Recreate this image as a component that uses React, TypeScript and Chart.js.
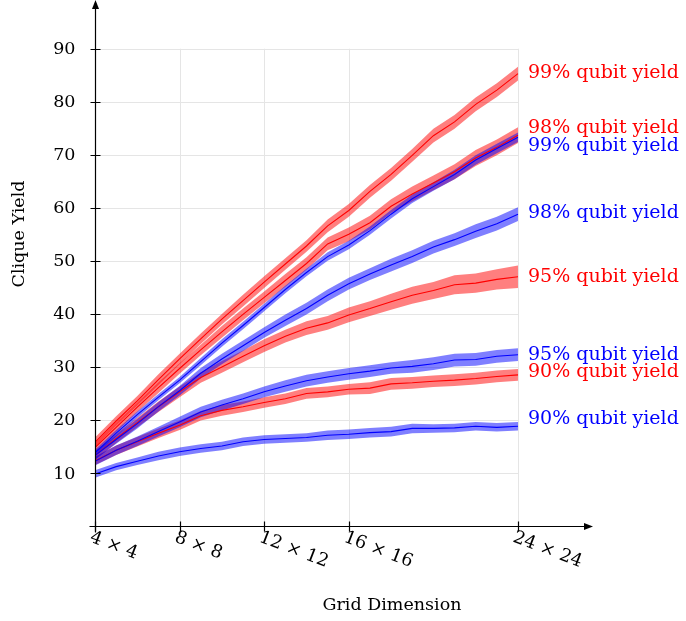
import React, { useEffect, useRef } from "react";
import { Chart, registerables } from "chart.js";

Chart.register(...registerables);

// ---- data ----
const gridSizes = [4, 5, 6, 7, 8, 9, 10, 11, 12, 13, 14, 15, 16, 17, 18, 19, 20, 21, 22, 23, 24];
const xTickValues = [4, 8, 12, 16, 24];
const xTickLabels = ["4 × 4", "8 × 8", "12 × 12", "16 × 16", "24 × 24"];
const yTickValues = [10, 20, 30, 40, 50, 60, 70, 80, 90];

const red99 = [15.8, 19.8, 23.6, 27.6, 31.5, 35.3, 39.0, 42.5, 46.0, 49.4, 52.8, 56.6, 59.5, 63.1, 66.3, 69.9, 73.6, 76.2, 79.5, 82.2, 85.3];
const red98 = [14.8, 18.6, 22.4, 26.1, 29.7, 33.2, 36.6, 39.9, 43.1, 46.3, 49.5, 53.2, 55.0, 57.2, 60.3, 62.6, 64.7, 66.8, 69.4, 71.4, 73.7];
const blue99 = [13.8, 17.5, 21.0, 24.3, 27.5, 31.0, 34.5, 37.8, 41.2, 44.6, 47.8, 50.8, 53.0, 55.7, 58.8, 61.7, 64.0, 66.3, 69.0, 71.2, 73.3];
const blue98 = [13.3, 16.3, 19.3, 22.5, 25.5, 28.8, 31.5, 34.0, 36.5, 38.8, 41.0, 43.5, 45.7, 47.5, 49.2, 50.8, 52.6, 54.0, 55.6, 57.0, 58.8];
const red95 = [13.3, 16.5, 19.5, 22.5, 25.3, 28.0, 30.0, 32.0, 34.0, 35.8, 37.3, 38.3, 39.8, 41.0, 42.3, 43.5, 44.4, 45.5, 45.8, 46.5, 47.0];
const blue95 = [12.2, 14.3, 16.0, 17.8, 19.6, 21.5, 22.8, 24.0, 25.3, 26.4, 27.4, 28.1, 28.7, 29.2, 29.8, 30.1, 30.6, 31.3, 31.4, 32.0, 32.3];
const red90 = [12.3, 14.3, 15.9, 17.5, 19.0, 20.8, 21.8, 22.5, 23.3, 24.0, 25.0, 25.3, 25.8, 26.0, 26.8, 27.0, 27.3, 27.5, 27.8, 28.2, 28.5];
const blue90 = [9.8, 11.2, 12.2, 13.2, 14.0, 14.6, 15.1, 15.9, 16.3, 16.5, 16.7, 17.1, 17.3, 17.6, 17.8, 18.4, 18.4, 18.5, 18.8, 18.6, 18.8];

// half-widths of the shaded bands
const red99Err = [0.9, 0.9, 0.9, 1.0, 1.0, 1.0, 1.0, 1.1, 1.1, 1.1, 1.1, 1.2, 1.2, 1.2, 1.2, 1.2, 1.3, 1.3, 1.3, 1.3, 1.3];
const red98Err = [0.9, 0.9, 0.9, 1.0, 1.0, 1.0, 1.1, 1.1, 1.1, 1.2, 1.2, 1.2, 1.3, 1.3, 1.3, 1.4, 1.4, 1.4, 1.5, 1.5, 1.5];
const blue99Err = [0.6, 0.6, 0.6, 0.6, 0.6, 0.7, 0.7, 0.7, 0.7, 0.7, 0.7, 0.8, 0.8, 0.8, 0.8, 0.8, 0.8, 0.9, 0.9, 0.9, 0.9];
const blue98Err = [0.8, 0.8, 0.9, 0.9, 0.9, 1.0, 1.0, 1.0, 1.0, 1.1, 1.1, 1.1, 1.1, 1.1, 1.2, 1.2, 1.2, 1.2, 1.3, 1.3, 1.3];
const red95Err = [0.8, 0.9, 0.9, 1.0, 1.0, 1.0, 1.1, 1.1, 1.2, 1.2, 1.3, 1.3, 1.4, 1.4, 1.5, 1.6, 1.6, 1.8, 1.8, 1.9, 2.1];
const blue95Err = [0.8, 0.9, 0.9, 0.9, 1.0, 1.0, 1.0, 1.0, 1.0, 1.1, 1.1, 1.1, 1.1, 1.1, 1.1, 1.2, 1.2, 1.2, 1.2, 1.2, 1.2];
const red90Err = [0.8, 0.9, 0.9, 0.9, 0.9, 0.9, 1.0, 1.0, 1.0, 1.0, 1.0, 1.0, 1.0, 1.1, 1.1, 1.1, 1.1, 1.1, 1.1, 1.1, 1.1];
const blue90Err = [0.7, 0.7, 0.7, 0.8, 0.8, 0.8, 0.8, 0.8, 0.8, 0.8, 0.8, 0.9, 0.9, 0.9, 0.9, 0.9, 0.8, 0.8, 0.8, 0.8, 0.8];

const seriesLabels = ["90% qubit yield", "95% qubit yield", "98% qubit yield", "99% qubit yield", "90% qubit yield", "95% qubit yield", "98% qubit yield", "99% qubit yield"];
const seriesKinds = ["blue", "blue", "blue", "blue", "red", "red", "red", "red"];
const seriesMeans = [blue90, blue95, blue98, blue99, red90, red95, red98, red99];
const seriesErrs = [blue90Err, blue95Err, blue98Err, blue99Err, red90Err, red95Err, red98Err, red99Err];
// vertical anchor (data units) of each end label
const labelAnchors = [20.2, 32.3, 59.0, 71.7, 29.0, 47.0, 75.0, 85.5];

const X_MIN = 4, X_MAX = 27.5, Y_MIN = 0, Y_MAX = 99;
const GRID_X_MAX = 24, GRID_Y_MAX = 90;

const LINE = { red: "rgb(255,0,0)", blue: "rgb(0,0,255)" };
const BAND = { red: "rgba(255,0,0,0.5)", blue: "rgba(0,0,255,0.5)" };
const FONT = "'DejaVu Serif', serif";

const decorPlugin = {
  id: "decor",
  beforeDatasetsDraw(chart: any) {
    const { ctx, scales } = chart;
    const x = scales.x, y = scales.y;
    ctx.save();
    ctx.strokeStyle = "#e5e5e5";
    ctx.lineWidth = 1;
    const gx0 = x.getPixelForValue(X_MIN), gx1 = x.getPixelForValue(GRID_X_MAX);
    const gy0 = y.getPixelForValue(Y_MIN), gy1 = y.getPixelForValue(GRID_Y_MAX);
    ctx.beginPath();
    yTickValues.forEach((v) => {
      const py = Math.round(y.getPixelForValue(v)) + 0.5;
      ctx.moveTo(gx0, py);
      ctx.lineTo(gx1, py);
    });
    xTickValues.forEach((v) => {
      const px = Math.round(x.getPixelForValue(v)) + 0.5;
      ctx.moveTo(px, gy1);
      ctx.lineTo(px, gy0);
    });
    ctx.stroke();
    ctx.restore();
  },
  afterDatasetsDraw(chart: any) {
    const { ctx, scales, chartArea } = chart;
    const x = scales.x, y = scales.y;
    const ax = Math.round(x.getPixelForValue(X_MIN)) + 0.5;
    const ay = Math.round(y.getPixelForValue(Y_MIN)) + 0.5;
    ctx.save();
    ctx.strokeStyle = "#000";
    ctx.fillStyle = "#000";
    ctx.lineWidth = 1.2;
    // axes
    ctx.beginPath();
    ctx.moveTo(ax, ay + 6);
    ctx.lineTo(ax, chartArea.top + 6);
    ctx.moveTo(ax - 6, ay);
    ctx.lineTo(chartArea.right - 6, ay);
    ctx.stroke();
    // arrowheads
    ctx.beginPath();
    ctx.moveTo(ax, chartArea.top - 1);
    ctx.lineTo(ax - 3.5, chartArea.top + 8);
    ctx.lineTo(ax + 3.5, chartArea.top + 8);
    ctx.closePath();
    ctx.fill();
    ctx.beginPath();
    ctx.moveTo(chartArea.right + 1, ay);
    ctx.lineTo(chartArea.right - 8, ay - 3.5);
    ctx.lineTo(chartArea.right - 8, ay + 3.5);
    ctx.closePath();
    ctx.fill();
    // ticks
    ctx.beginPath();
    yTickValues.forEach((v) => {
      const py = Math.round(y.getPixelForValue(v)) + 0.5;
      ctx.moveTo(ax - 5, py);
      ctx.lineTo(ax + 5, py);
    });
    xTickValues.forEach((v) => {
      const px = Math.round(x.getPixelForValue(v)) + 0.5;
      ctx.moveTo(px, ay - 5);
      ctx.lineTo(px, ay + 5);
    });
    ctx.stroke();
    // y tick labels
    ctx.font = `17.5px ${FONT}`;
    ctx.textAlign = "right";
    ctx.textBaseline = "middle";
    yTickValues.forEach((v) => {
      ctx.fillText(String(v), ax - 20, y.getPixelForValue(v) + 1);
    });
    // x tick labels (rotated)
    ctx.font = `18px ${FONT}`;
    ctx.textAlign = "left";
    ctx.textBaseline = "top";
    xTickValues.forEach((v, i) => {
      const px = x.getPixelForValue(v);
      ctx.save();
      ctx.translate(px - 1, ay + 2);
      ctx.rotate((21 * Math.PI) / 180);
      ctx.fillText(xTickLabels[i], 0, 0);
      ctx.restore();
    });
    // axis titles
    ctx.font = `17.5px ${FONT}`;
    ctx.textAlign = "center";
    ctx.textBaseline = "middle";
    ctx.fillText("Grid Dimension", 392, 605);
    ctx.save();
    ctx.translate(19, 234);
    ctx.rotate(-Math.PI / 2);
    ctx.fillText("Clique Yield", 0, 0);
    ctx.restore();
    // end labels
    ctx.font = `19px ${FONT}`;
    ctx.textAlign = "left";
    ctx.textBaseline = "middle";
    const endX = x.getPixelForValue(GRID_X_MAX) + 10;
    seriesLabels.forEach((lab, i) => {
      ctx.fillStyle = LINE[seriesKinds[i] as "red" | "blue"];
      ctx.fillText(lab, endX, y.getPixelForValue(labelAnchors[i]));
    });
    ctx.restore();
  },
};

export default function App() {
  const ref = useRef<HTMLCanvasElement | null>(null);
  useEffect(() => {
    if (!ref.current) return;
    const datasets: any[] = [];
    seriesMeans.forEach((mean, i) => {
      const kind = seriesKinds[i] as "red" | "blue";
      const err = seriesErrs[i];
      datasets.push({
        label: seriesLabels[i] + " upper",
        data: gridSizes.map((g, j) => ({ x: g, y: mean[j] + err[j] })),
        borderWidth: 0,
        pointRadius: 0,
        backgroundColor: BAND[kind],
        fill: "+1",
        order: 10,
      });
      datasets.push({
        label: seriesLabels[i] + " lower",
        data: gridSizes.map((g, j) => ({ x: g, y: mean[j] - err[j] })),
        borderWidth: 0,
        pointRadius: 0,
        fill: false,
        order: 10,
      });
    });
    seriesMeans.forEach((mean, i) => {
      const kind = seriesKinds[i] as "red" | "blue";
      datasets.push({
        label: seriesLabels[i],
        data: gridSizes.map((g, j) => ({ x: g, y: mean[j] })),
        borderColor: LINE[kind],
        borderWidth: 1.1,
        pointRadius: 0,
        fill: false,
        order: 1,
      });
    });
    const chart = new Chart(ref.current, {
      type: "line",
      data: { datasets },
      options: {
        responsive: false,
        animation: false,
        devicePixelRatio: 1,
        layout: { padding: { left: 95, right: 94, top: 1, bottom: 95 } },
        plugins: { legend: { display: false }, tooltip: { enabled: false }, title: { display: false } },
        scales: {
          x: { type: "linear", min: X_MIN, max: X_MAX, display: false },
          y: { type: "linear", min: Y_MIN, max: Y_MAX, display: false },
        },
        elements: { line: { tension: 0 } },
      },
      plugins: [decorPlugin],
    });
    return () => chart.destroy();
  }, []);
  return (
    <div style={{ position: "fixed", left: 0, top: 0, width: 686, height: 621, background: "#fff" }}>
      <canvas ref={ref} width={686} height={621} style={{ width: 686, height: 621, display: "block" }} />
    </div>
  );
}
